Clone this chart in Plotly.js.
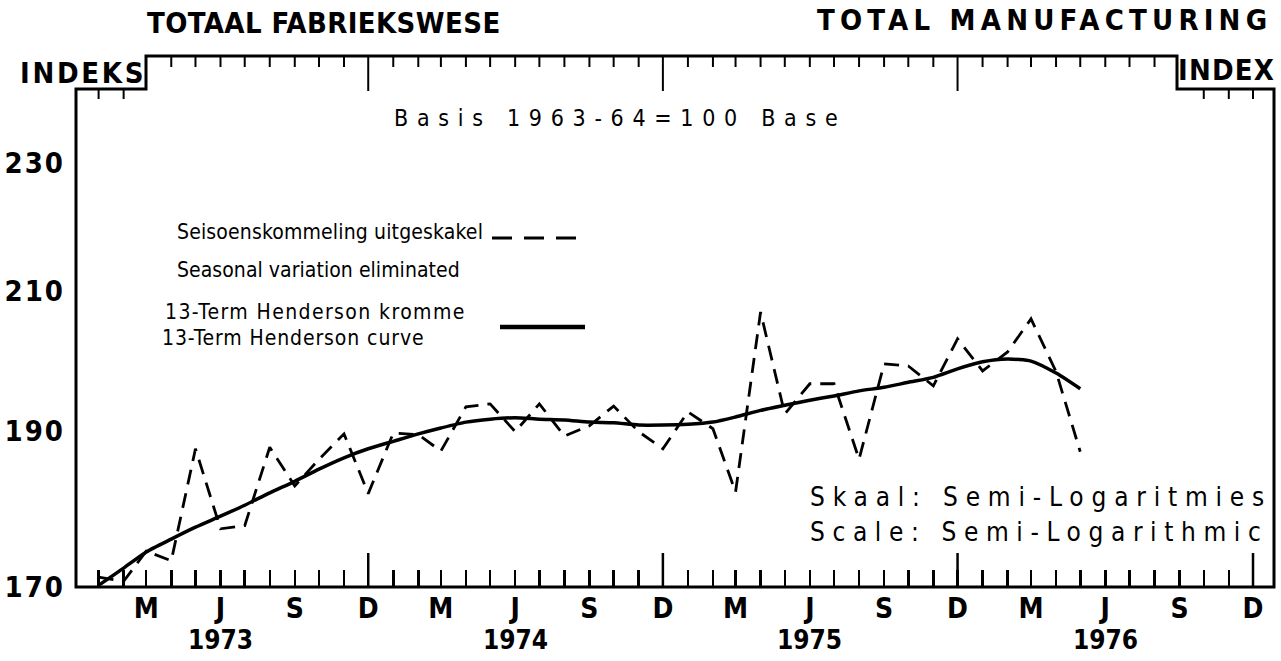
<!DOCTYPE html>
<html>
<head>
<meta charset="utf-8">
<script src="https://cdn.plot.ly/plotly-3.0.1.min.js"></script>
<style>
  html, body { margin: 0; padding: 0; background: #fff; }
  #chart { width: 1281px; height: 661px; }
</style>
</head>
<body>
<div id="chart"></div>
<script>
// ---------------- DATA ----------------
const months = [
  '1973-01','1973-02','1973-03','1973-04','1973-05','1973-06','1973-07','1973-08','1973-09','1973-10','1973-11','1973-12',
  '1974-01','1974-02','1974-03','1974-04','1974-05','1974-06','1974-07','1974-08','1974-09','1974-10','1974-11','1974-12',
  '1975-01','1975-02','1975-03','1975-04','1975-05','1975-06','1975-07','1975-08','1975-09','1975-10','1975-11','1975-12',
  '1976-01','1976-02','1976-03','1976-04','1976-05'
];
// Seasonal variation eliminated (dashed)
const seasonallyAdjusted = [
  171.2, 170.7, 174.4, 173.2, 187.6, 177.2, 177.6, 187.8, 182.7, 186.2, 189.6, 181.7,
  189.7, 189.5, 187.3, 193.3, 193.7, 189.9, 193.7, 189.3, 190.7, 193.4, 189.9, 187.6,
  192.6, 190.3, 181.9, 206.8, 192.3, 196.5, 196.5, 186.2, 199.3, 199.0, 196.2, 202.9,
  198.3, 201.0, 205.8, 198.2, 187.2
];
// 13-term Henderson curve (solid)
const henderson = [
  170.2, 172.3, 174.3, 175.9, 177.4, 178.8, 180.2, 181.8, 183.3, 184.9, 186.4, 187.6,
  188.6, 189.6, 190.4, 191.2, 191.6, 191.8, 191.6, 191.5, 191.2, 191.1, 190.8, 190.8,
  190.9, 191.2, 191.9, 192.8, 193.5, 194.2, 194.8, 195.5, 196.0, 196.7, 197.4, 198.6,
  199.6, 200.0, 199.7, 198.0, 195.8
];
// Axis months and their labels
const axisMonths = [
  '1973-01','1973-02','1973-03','1973-04','1973-05','1973-06','1973-07','1973-08','1973-09','1973-10','1973-11','1973-12',
  '1974-01','1974-02','1974-03','1974-04','1974-05','1974-06','1974-07','1974-08','1974-09','1974-10','1974-11','1974-12',
  '1975-01','1975-02','1975-03','1975-04','1975-05','1975-06','1975-07','1975-08','1975-09','1975-10','1975-11','1975-12',
  '1976-01','1976-02','1976-03','1976-04','1976-05','1976-06','1976-07','1976-08','1976-09','1976-10','1976-11','1976-12'
];
const axisLabels = [
  '','','M','','','J','','','S','','','D',
  '','','M','','','J','','','S','','','D',
  '','','M','','','J','','','S','','','D',
  '','','M','','','J','','','S','','','D'
];
const years = ['1973','1974','1975','1976'];
const yTickValues = [170, 190, 210, 230];
const yGridFull = [190, 230];
const yGridBroken = [210];
const yShortTicks = [180, 200, 220, 240];

// --------------- LAYOUT HELPERS ---------------
const W = 1281, H = 661;
const L = 76, R = 1274, T = 56, B = 587;
const PW = R - L, PH = B - T;
const px = v => (v - L) / PW;       // pixel x -> paper
const py = v => (B - v) / PH;       // pixel y -> paper
const BOLD = '"Liberation Sans Narrow", "DejaVu Sans Condensed", "Arial Narrow", sans-serif';
const TXT = '"DejaVu Sans Condensed", "Liberation Sans Narrow", sans-serif';
const sp = (t, s) => `<span style="letter-spacing:${s}px">${t}</span>`;
const lg = v => Math.log10(v);

const shapes = [];
// stepped frame
const xl = px(146), xr = px(1177), ys = py(89);
shapes.push({
  type: 'path', xref: 'paper', yref: 'paper',
  path: `M 0 0 L 0 ${ys} L ${xl} ${ys} L ${xl} 1 L ${xr} 1 L ${xr} ${ys} L 1 ${ys} L 1 0 Z`,
  line: { color: '#000', width: 3 }, fillcolor: 'rgba(0,0,0,0)', layer: 'above'
});
// full gridlines
yGridFull.forEach(v => shapes.push({
  type: 'line', xref: 'paper', yref: 'y', x0: 0, x1: 1, y0: lg(v), y1: lg(v),
  line: { color: '#000', width: 2 }, layer: 'below'
}));
// broken gridline (interrupted by legend text)
yGridBroken.forEach(v => {
  shapes.push({ type: 'line', xref: 'paper', yref: 'y', x0: 0, x1: px(140), y0: lg(v), y1: lg(v),
    line: { color: '#000', width: 2 }, layer: 'below' });
  shapes.push({ type: 'line', xref: 'paper', yref: 'y', x0: px(470), x1: 1, y0: lg(v), y1: lg(v),
    line: { color: '#000', width: 2 }, layer: 'below' });
});
// short ticks on both sides
yShortTicks.forEach(v => {
  shapes.push({ type: 'line', xref: 'paper', yref: 'y', x0: 0, x1: px(101), y0: lg(v), y1: lg(v),
    line: { color: '#000', width: 2 }, layer: 'below' });
  shapes.push({ type: 'line', xref: 'paper', yref: 'y', x0: px(1249), x1: 1, y0: lg(v), y1: lg(v),
    line: { color: '#000', width: 2 }, layer: 'below' });
});
// top ticks and tall December ticks at bottom
axisMonths.forEach((m, i) => {
  const isDec = m.endsWith('-12');
  if (i < 2 || i > 44) {
    shapes.push({ type: 'line', xref: 'x', yref: 'paper', x0: m, x1: m, y0: ys, y1: ys - 10 / PH,
      line: { color: '#000', width: 2 } });
  } else if (i > 2 && i < 44) {
    const len = isDec ? 35 : 11;
    shapes.push({ type: 'line', xref: 'x', yref: 'paper', x0: m, x1: m, y0: 1, y1: 1 - len / PH,
      line: { color: '#000', width: 2 } });
  }
  if (isDec) {
    shapes.push({ type: 'line', xref: 'x', yref: 'paper', x0: m, x1: m, y0: 0, y1: 34 / PH,
      line: { color: '#000', width: 2.5 } });
  }
});
// legend keys
shapes.push({ type: 'line', xref: 'paper', yref: 'paper', x0: px(492), x1: px(578), y0: py(238), y1: py(238),
  line: { color: '#000', width: 3, dash: '20px,12px' } });
shapes.push({ type: 'line', xref: 'paper', yref: 'paper', x0: px(500), x1: px(585), y0: py(327), y1: py(327),
  line: { color: '#000', width: 4.5 } });

const ann = (text, x, y, size, opts = {}) => Object.assign({
  text, xref: 'paper', yref: 'paper', x: px(x), y: py(y), showarrow: false,
  xanchor: 'left', yanchor: 'middle',
  font: { family: BOLD, size, color: '#000', weight: 'bold' }
}, opts);
const tf = size => ({ font: { family: TXT, size, color: '#000' } });

const annotations = [
  ann(sp('TOTAAL FABRIEKSWESE', 0.4), 145, 23, 29),
  ann(sp('TOTAL MANUFACTURING', 5.2), 815, 20, 29),
  ann(sp('INDEKS', 2.7), 18, 73, 29),
  ann(sp('INDEX', 1.2), 1277, 70, 29, { xanchor: 'right' }),
  ann(sp('Basis 1963-64=100 Base', 8.7), 392, 118, 23, tf(23)),
  ann(sp('Seisoenskommeling uitgeskakel', 0.15), 175, 232, 21, tf(21)),
  ann(sp('Seasonal variation eliminated', 0.05), 175, 270, 21, tf(21)),
  ann(sp('13-Term Henderson kromme', 1.4), 163, 312, 21, tf(21)),
  ann(sp('13-Term Henderson curve', 0.9), 160, 338, 21, tf(21)),
  ann(sp('Skaal: Semi-Logaritmies', 7.8), 808, 497, 26, tf(26)),
  ann(sp('Scale: Semi-Logarithmic', 7.6), 808, 532, 26, tf(26))
];
years.forEach(yr => annotations.push({
  text: yr, xref: 'x', yref: 'paper', x: `${yr}-06`, y: py(640), showarrow: false,
  xanchor: 'center', yanchor: 'middle',
  font: { family: BOLD, size: 26, color: '#000', weight: 'bold' }
}));

const traces = [
  {
    x: months, y: seasonallyAdjusted, type: 'scatter', mode: 'lines',
    name: 'Seasonal variation eliminated',
    line: { color: '#000', width: 2.8, dash: '15px,9px' }
  },
  {
    x: months, y: henderson, type: 'scatter', mode: 'lines',
    name: '13-Term Henderson curve',
    line: { color: '#000', width: 3.5, shape: 'spline', smoothing: 0.6 }
  }
];

const layout = {
  width: W, height: H,
  margin: { l: L, r: W - R, t: T, b: H - B, pad: 0 },
  paper_bgcolor: '#fff', plot_bgcolor: '#fff',
  showlegend: false,
  xaxis: {
    type: 'date',
    range: ['1972-12-04', '1976-12-27'],
    tickmode: 'array', tickvals: axisMonths, ticktext: axisLabels,
    ticks: 'inside', ticklen: 17, tickwidth: 2.5, tickcolor: '#000',
    showgrid: false, zeroline: false, showline: false,
    tickfont: { family: BOLD, size: 28, color: '#000', weight: 'bold' },
    ticklabelstandoff: 2
  },
  yaxis: {
    type: 'log',
    range: [lg(170), lg(248.2)],
    tickmode: 'array', tickvals: yTickValues, ticktext: yTickValues.map(v => sp(String(v), 2)),
    ticks: '', showgrid: false, zeroline: false, showline: false,
    tickfont: { family: BOLD, size: 29, color: '#000', weight: 'bold' },
    ticklabelstandoff: 10
  },
  shapes, annotations
};

Plotly.newPlot('chart', traces, layout, { staticPlot: true, displayModeBar: false });
</script>
</body>
</html>
